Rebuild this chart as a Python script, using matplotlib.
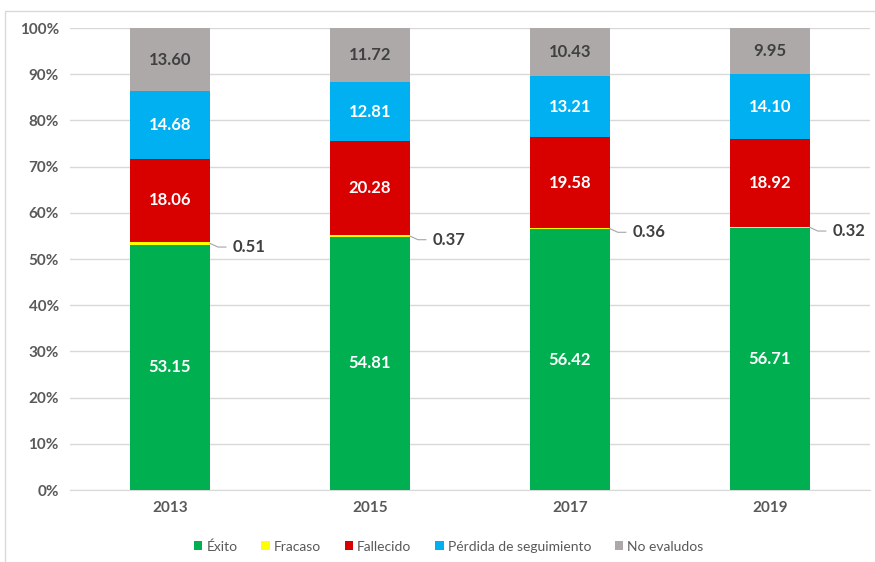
import matplotlib.pyplot as plt
from matplotlib.patches import Rectangle
import numpy as np

years = ["2013", "2015", "2017", "2019"]
exito = [53.15, 54.81, 56.42, 56.71]
fracaso = [0.51, 0.37, 0.36, 0.32]
fallecido = [18.06, 20.28, 19.58, 18.92]
perdida = [14.68, 12.81, 13.21, 14.10]
no_eval = [13.60, 11.72, 10.43, 9.95]

names = ["Éxito", "Fracaso", "Fallecido", "Pérdida de seguimiento", "No evaludos"]
colors = ["#00B050", "#FFFF00", "#D90000", "#00B0F0", "#ADA9A9"]
label_colors = ["white", None, "white", "white", "#404040"]

plt.rcParams['font.family'] = ['Lato', 'DejaVu Sans']

fig = plt.figure(figsize=(8.75, 5.62), dpi=100)
ax = fig.add_axes([0.08, 0.128, 0.914, 0.822])

# chart area border (only left and top visible in the crop)
fig.patches.append(Rectangle((5 / 875, -0.1), 1.0, 1.1 - 11 / 562,
                             transform=fig.transFigure, fill=False,
                             edgecolor="#D9D9D9", linewidth=1))

x = np.arange(len(years))
series = [exito, fracaso, fallecido, perdida, no_eval]
bottom = np.zeros(len(years))
for vals, name, col, lc in zip(series, names, colors, label_colors):
    vals = np.array(vals)
    ax.bar(x, vals, 0.4, bottom=bottom, color=col, label=name, zorder=3)
    for i, v in enumerate(vals):
        if lc is not None:
            ax.text(x[i], bottom[i] + v / 2, f"{v:.2f}", ha="center", va="center",
                    color=lc, fontsize=12, fontweight="bold", zorder=4)
        else:
            y0 = bottom[i] + v / 2
            ax.plot([x[i] + 0.2, x[i] + 0.24, x[i] + 0.28],
                    [y0, y0 - 0.8, y0 - 0.8], color="#A6A6A6", lw=0.8, zorder=4)
            ax.text(x[i] + 0.315, y0 - 0.8, f"{v:.2f}", ha="left", va="center",
                    color="#404040", fontsize=12, fontweight="bold", zorder=4)
    bottom += vals

ax.set_xlim(-0.5, 3.5)
ax.set_ylim(0, 100)
ax.set_xticks(x)
ax.set_xticklabels(years)
ax.set_yticks(np.arange(0, 101, 10))
ax.set_yticklabels([f"{t}%" for t in range(0, 101, 10)])
ax.tick_params(length=0, labelsize=11, labelcolor="#595959", pad=8)
for lab in ax.get_xticklabels() + ax.get_yticklabels():
    lab.set_fontweight("bold")
ax.grid(axis="y", color="#D9D9D9", linewidth=1, zorder=0)
for s in ["top", "right", "left"]:
    ax.spines[s].set_visible(False)
ax.spines["bottom"].set_color("#D9D9D9")

leg = fig.legend(loc="center", bbox_to_anchor=(0.513, 0.028), ncol=5, frameon=False,
                 handlelength=0.6, handleheight=0.6, handletextpad=0.3,
                 columnspacing=1.7, fontsize=10)
for t in leg.get_texts():
    t.set_color("#595959")

fig.savefig("out.png", dpi=100)
